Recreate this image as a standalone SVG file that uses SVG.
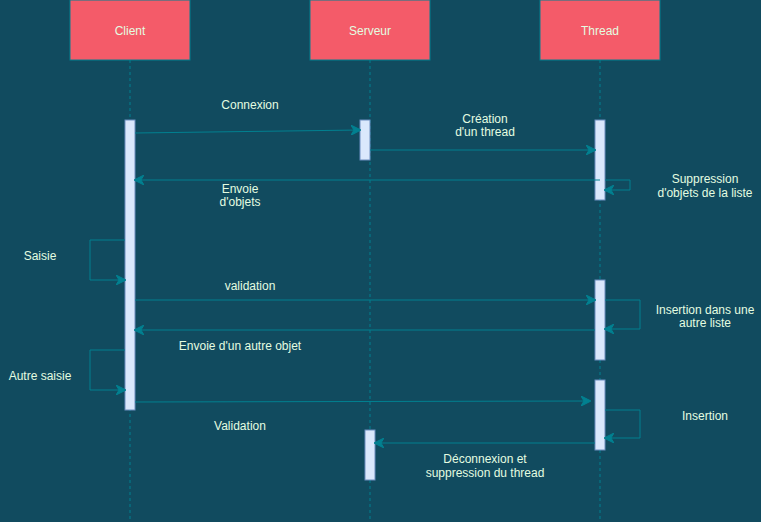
<svg xmlns="http://www.w3.org/2000/svg" width="761" height="522" viewBox="0 0 761 522">
<style>
.bg{fill:#114B5F}
.hdr{fill:#F45B69;stroke:#028090;stroke-width:1}
.life{stroke:#028090;stroke-width:1;stroke-dasharray:3 3;fill:none}
.act{fill:#DAE8FC;stroke:#6C8EBF;stroke-width:1}
.msg{stroke:#028090;stroke-width:1;fill:none;marker-end:url(#arr)}
text{font-family:"Liberation Sans",Arial,sans-serif;font-size:12px;fill:#E4FDE1;text-anchor:middle}
</style>
<defs>
<marker id="arr" viewBox="0 0 10 10" refX="9" refY="5" markerWidth="10" markerHeight="10" markerUnits="userSpaceOnUse" orient="auto">
<path d="M0,0 L10,5 L0,10 L3,5 Z" fill="#028090" stroke="#028090" stroke-width="1"/>
</marker>
</defs>
<rect class="bg" x="0" y="0" width="761" height="522"/>
<g id="client">
<line class="life" x1="130" y1="60" x2="130" y2="522"/>
<rect class="hdr" x="70" y="0" width="120" height="60"/>
<text x="130" y="35">Client</text>
<rect class="act" x="125" y="120" width="10" height="290"/>
</g>
<g id="serveur">
<line class="life" x1="370" y1="60" x2="370" y2="522"/>
<rect class="hdr" x="310" y="0" width="120" height="60"/>
<text x="370" y="35">Serveur</text>
<rect class="act" x="360" y="120" width="10" height="40"/>
<rect class="act" x="365" y="430" width="10" height="50"/>
</g>
<g id="thread">
<line class="life" x1="600" y1="60" x2="600" y2="522"/>
<rect class="hdr" x="540" y="0" width="120" height="60"/>
<text x="600" y="35">Thread</text>
<rect class="act" x="595" y="120" width="10" height="80"/>
<rect class="act" x="595" y="280" width="10" height="80"/>
<rect class="act" x="595" y="380" width="10" height="70"/>
</g>
<g id="connectors">
<path class="msg" d="M135,133 L360,130"/>
<path class="msg" d="M370,150 L595,150"/>
<path class="msg" d="M600,180 L135,180"/>
<path class="msg" d="M605,180 L630,180 L630,190 L605,190"/>
<path class="msg" d="M125,240 L90,240 L90,280 L125,280"/>
<path class="msg" d="M135,300 L595,300"/>
<path class="msg" d="M605,300 L640,300 L640,329 L605,329"/>
<path class="msg" d="M595,330 L135,330"/>
<path class="msg" d="M125,350 L90,350 L90,390 L125,390"/>
<path class="msg" d="M135,402 L590,401"/>
<path class="msg" d="M605,410 L640,410 L640,438 L605,438"/>
<path class="msg" d="M595,443 L375,443"/>
</g>
<g id="labels">
<text x="250" y="109">Connexion</text>
<text x="485" y="123">Création</text>
<text x="485" y="136">d'un thread</text>
<text x="240" y="193">Envoie</text>
<text x="240" y="206">d'objets</text>
<text x="705" y="183">Suppression</text>
<text x="705" y="197">d'objets de la liste</text>
<text x="40" y="260">Saisie</text>
<text x="250" y="290">validation</text>
<text x="705" y="314">Insertion dans une</text>
<text x="705" y="327">autre liste</text>
<text x="240" y="350">Envoie d'un autre objet</text>
<text x="40" y="380">Autre saisie</text>
<text x="240" y="430">Validation</text>
<text x="705" y="420">Insertion</text>
<text x="485" y="463">Déconnexion et</text>
<text x="485" y="477">suppression du thread</text>
</g>
</svg>
